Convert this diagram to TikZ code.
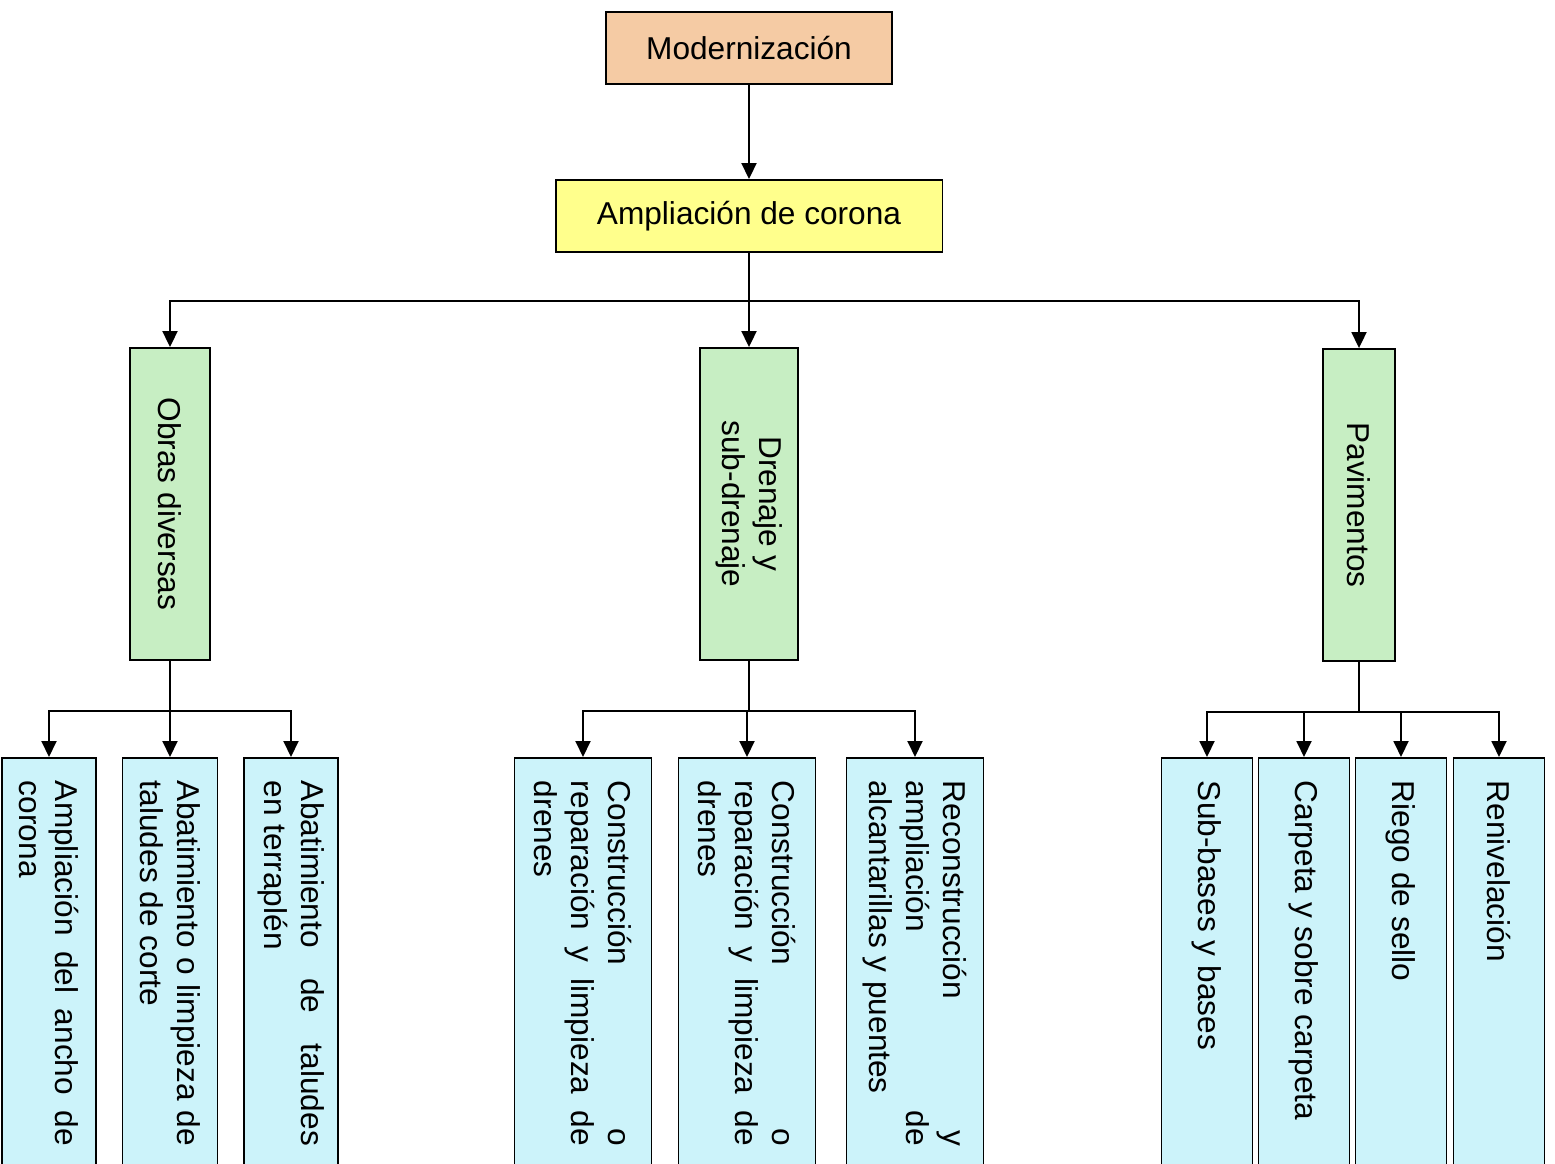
\documentclass[tikz,border=0pt]{standalone}
\usepackage{fontspec}
\setmainfont{Liberation Sans}
\usetikzlibrary{arrows.meta, positioning}
\definecolor{orgpeach}{HTML}{F5CBA4}
\definecolor{orgyellow}{HTML}{FFFF8C}
\definecolor{orggreen}{HTML}{C7EEC3}
\definecolor{orgblue}{HTML}{CCF3FA}
\tikzset{
  orgbox/.style={draw=black, line width=1.1pt, inner sep=0pt, align=center,
    font=\fontsize{18}{21}\selectfont},
  speach/.style={fill=orgpeach, minimum width=5.72cm, minimum height=1.44cm},
  syellow/.style={fill=orgyellow, minimum width=7.74cm, minimum height=1.44cm},
  sgreen/.style={fill=orggreen, rotate=-90, minimum width=6.24cm},
  sblue/.style={fill=orgblue, rotate=-90, anchor=west, text width=7.3cm,
    align=justify, inner xsep=0.46cm, inner ysep=0pt,
    execute at begin node={\hyphenpenalty=10000\relax}},
  orgarrow/.style={-{Triangle[length=0.32cm, width=0.3cm]}, line width=1.1pt},
  orgline/.style={line width=1.1pt},
}

\begin{document}
\begin{tikzpicture}[x=0.02cm, y=-0.02cm]
  \useasboundingbox (0,0) rectangle (1555,1163);
  % top levels
  \node[orgbox, speach] (modern) at (749,48) {Modernización};
  \node[orgbox, syellow] (corona) at (749,216) {Ampliación de corona};
  % groups
  \node[orgbox, sgreen, minimum height=1.6cm] (obras) at (170,504) {Obras diversas};
  \node[orgbox, sgreen, minimum height=1.96cm] (drenaje) at (749,504) {Drenaje y\\sub-drenaje};
  \node[orgbox, sgreen, minimum height=1.44cm] (pavim) at (1359,505) {Pavimentos};
  % works
  \node[orgbox, sblue, minimum height=1.88cm] (ob1) at (49,757) {Ampliación del ancho de\linebreak corona};
  \node[orgbox, sblue, minimum height=1.9cm] (ob2) at (170,757) {Abatimiento o limpieza de\linebreak taludes de corte};
  \node[orgbox, sblue, minimum height=1.88cm] (ob3) at (291,757) {Abatimiento de taludes\linebreak en terraplén};
  \node[orgbox, sblue, minimum height=2.74cm] (dr1) at (583,757) {Construcción o\linebreak reparación y limpieza de\linebreak drenes};
  \node[orgbox, sblue, minimum height=2.74cm] (dr2) at (747,757) {Construcción o\linebreak reparación y limpieza de\linebreak drenes};
  \node[orgbox, sblue, minimum height=2.74cm] (dr3) at (915,757) {Reconstrucción y\linebreak ampliación de\linebreak alcantarillas y puentes};
  \node[orgbox, sblue, minimum height=1.82cm] (pv1) at (1207,757) {Sub-bases y bases};
  \node[orgbox, sblue, minimum height=1.82cm] (pv2) at (1304,757) {Carpeta y sobre carpeta};
  \node[orgbox, sblue, minimum height=1.82cm] (pv3) at (1401,757) {Riego de sello};
  \node[orgbox, sblue, minimum height=1.82cm] (pv4) at (1499,757) {Renivelación};
  % connectors
  \draw[orgarrow] (modern) -- (corona);
  \draw[orgline] (corona.south) -- ++(0,48) coordinate (jc);
  \draw[orgarrow] (jc) -| (obras.west);
  \draw[orgarrow] (jc) -- (drenaje.west);
  \draw[orgarrow] (jc) -| (pavim.west);
  \draw[orgline] (obras.east) -- ++(0,50) coordinate (jo);
  \foreach \n in {ob1,ob2,ob3} \draw[orgarrow] (jo) -| (\n.west);
  \draw[orgline] (drenaje.east) -- ++(0,50) coordinate (jd);
  \foreach \n in {dr1,dr2,dr3} \draw[orgarrow] (jd) -| (\n.west);
  \draw[orgline] (pavim.east) -- ++(0,50) coordinate (jp);
  \foreach \n in {pv1,pv2,pv3,pv4} \draw[orgarrow] (jp) -| (\n.west);
\end{tikzpicture}
\end{document}
